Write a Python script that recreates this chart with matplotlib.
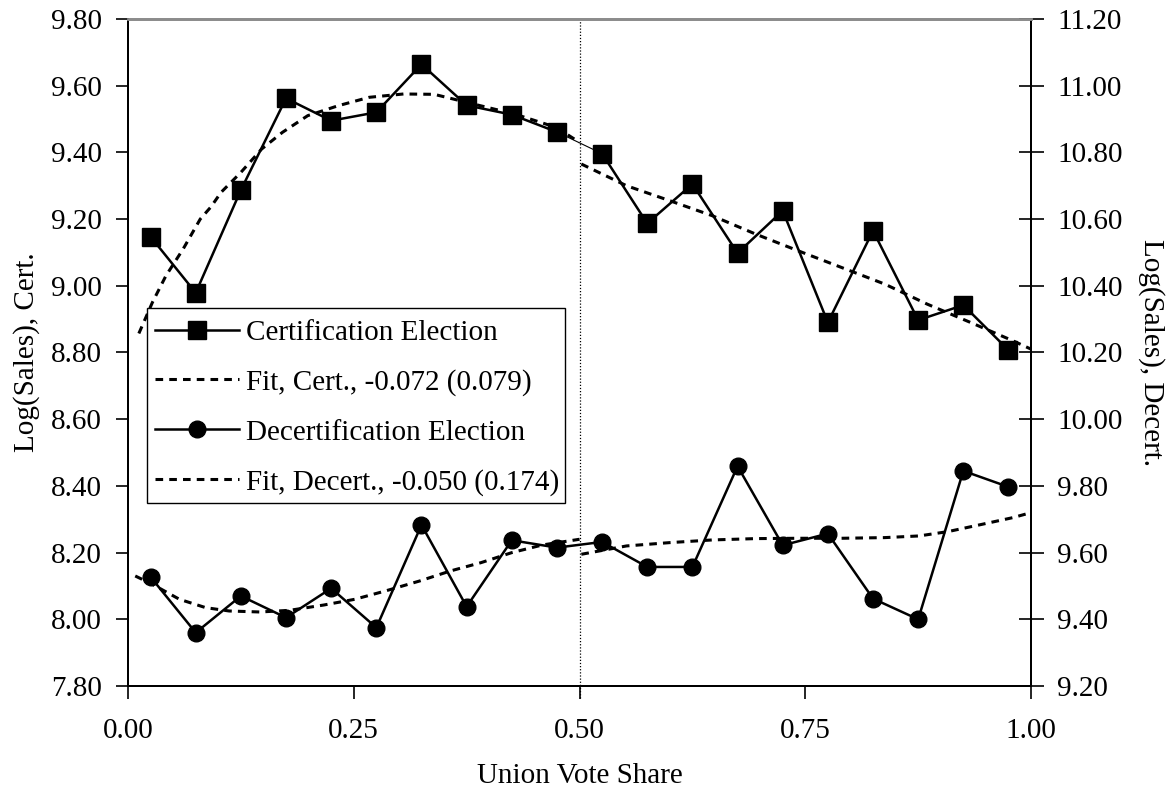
import matplotlib
matplotlib.use("Agg")
import matplotlib.pyplot as plt
from matplotlib.lines import Line2D
from matplotlib.patches import Rectangle

plt.rcParams['font.family'] = ['Liberation Serif', 'DejaVu Serif']
plt.rcParams['font.size'] = 21

# bin midpoints of union vote share
vote_share = [0.025, 0.075, 0.125, 0.175, 0.225, 0.275, 0.325, 0.375, 0.425, 0.475,
              0.525, 0.575, 0.625, 0.675, 0.725, 0.775, 0.825, 0.875, 0.925, 0.975]

# log(sales), certification elections (left axis)
cert = [9.147, 8.979, 9.287, 9.562, 9.495, 9.520, 9.664, 9.541, 9.513, 9.461,
        9.396, 9.187, 9.305, 9.098, 9.225, 8.890, 9.165, 8.897, 8.942, 8.807]

# log(sales), decertification elections (right axis)
decert = [9.527, 9.360, 9.470, 9.405, 9.493, 9.375, 9.683, 9.438, 9.637, 9.615,
          9.632, 9.557, 9.557, 9.859, 9.622, 9.657, 9.462, 9.400, 9.845, 9.797]

# fitted curves, left and right of the 0.5 cutoff
cert_fit_x_lo = [0.012, 0.027, 0.042, 0.061, 0.080, 0.092, 0.103, 0.125, 0.148, 0.171,
                 0.199, 0.233, 0.267, 0.305, 0.339, 0.360, 0.390, 0.428, 0.474, 0.500]
cert_fit_lo = [8.857, 8.950, 9.030, 9.110, 9.200, 9.237, 9.280, 9.340, 9.410, 9.460,
               9.510, 9.540, 9.565, 9.575, 9.574, 9.560, 9.540, 9.515, 9.475, 9.430]
cert_fit_x_hi = [0.502, 0.552, 0.600, 0.647, 0.695, 0.742, 0.790, 0.838, 0.885, 0.933, 0.980, 1.000]
cert_fit_hi = [9.365, 9.300, 9.255, 9.210, 9.155, 9.105, 9.055, 9.005, 8.945, 8.890, 8.835, 8.810]

decert_fit_x_lo = [0.008, 0.027, 0.057, 0.086, 0.112, 0.146, 0.179, 0.217, 0.251, 0.285,
                   0.323, 0.357, 0.391, 0.425, 0.459, 0.500]
decert_fit_lo = [9.530, 9.505, 9.460, 9.435, 9.425, 9.422, 9.427, 9.443, 9.460, 9.485,
                 9.515, 9.545, 9.570, 9.600, 9.623, 9.640]
decert_fit_x_hi = [0.502, 0.552, 0.600, 0.647, 0.695, 0.742, 0.790, 0.838, 0.876, 0.908,
                   0.946, 0.980, 1.000]
decert_fit_hi = [9.595, 9.620, 9.630, 9.638, 9.642, 9.643, 9.643, 9.645, 9.650, 9.663,
                 9.685, 9.705, 9.720]

x_ticks = [0.0, 0.25, 0.5, 0.75, 1.0]
left_ticks = [7.8, 8.0, 8.2, 8.4, 8.6, 8.8, 9.0, 9.2, 9.4, 9.6, 9.8]
right_ticks = [9.2, 9.4, 9.6, 9.8, 10.0, 10.2, 10.4, 10.6, 10.8, 11.0, 11.2]

fig = plt.figure(figsize=(11.69, 7.89), dpi=100)
ax = fig.add_axes([0.1095, 0.1305, 0.7725, 0.8455])
ax2 = ax.twinx()

fit_style = dict(color='black', lw=2.2, ls=(0, (2.5, 2)))
sq = dict(color='black', lw=1.8, marker='s', ms=13)
dot = dict(color='black', lw=1.8, marker='o', ms=12)

# certification: two halves plus thin connector across the cutoff
ax.plot(vote_share[9:11], cert[9:11], color='black', lw=0.8)
ax.plot(vote_share[:10], cert[:10], **sq)
ax.plot(vote_share[10:], cert[10:], **sq)
ax.plot(cert_fit_x_lo, cert_fit_lo, **fit_style)
ax.plot(cert_fit_x_hi, cert_fit_hi, **fit_style)

ax2.plot(vote_share, decert, **dot)
ax2.plot(decert_fit_x_lo, decert_fit_lo, **fit_style)
ax2.plot(decert_fit_x_hi, decert_fit_hi, **fit_style)

ax.axvline(0.5, ymin=-0.018, ymax=1, color='black', lw=0.9, ls=(0, (1, 1.5)), clip_on=False)

ax.set_xlim(0, 1)
ax.set_ylim(7.8, 9.8)
ax2.set_ylim(9.2, 11.2)
ax.set_xticks(x_ticks)
ax.set_xticklabels([f'{t:.2f}' for t in x_ticks])
ax.set_yticks(left_ticks)
ax.set_yticklabels([f'{t:.2f}' for t in left_ticks])
ax2.set_yticks(right_ticks)
ax2.set_yticklabels([f'{t:.2f}' for t in right_ticks])

ax.tick_params(axis='x', direction='out', length=9, width=1.2, pad=14)
ax.tick_params(axis='y', direction='out', length=9, width=1.2, pad=10)
ax2.tick_params(axis='y', direction='inout', length=18, width=1.2, pad=10)

for a in (ax, ax2):
    a.spines['top'].set_color('#8c8c8c')
    a.spines['top'].set_linewidth(2)
    for s in ('left', 'right', 'bottom'):
        a.spines[s].set_linewidth(1.4)

ax.set_xlabel('Union Vote Share', labelpad=14)
ax.set_ylabel('Log(Sales), Cert.', labelpad=8)
ax2.set_ylabel('Log(Sales), Decert.', rotation=-90, labelpad=30)

# legend box drawn by hand so the padding matches the original
ax2.add_patch(Rectangle((0.021, 0.274), 0.463, 0.293, transform=ax2.transAxes,
                        facecolor='white', edgecolor='black', lw=1.0, zorder=4))

handles = [
    Line2D([], [], **sq),
    Line2D([], [], **fit_style),
    Line2D([], [], **dot),
    Line2D([], [], **fit_style),
]
labels = ['Certification Election', 'Fit, Cert., -0.072 (0.079)',
          'Decertification Election', 'Fit, Decert., -0.050 (0.174)']
leg = ax2.legend(handles, labels, loc='upper left', bbox_to_anchor=(0.0175, 0.567),
                 frameon=False, handlelength=2.85, handletextpad=0.26,
                 borderpad=0.4, labelspacing=0.795, borderaxespad=0, fontsize=21)
leg.set_zorder(5)

fig.savefig('out.png', dpi=100)
